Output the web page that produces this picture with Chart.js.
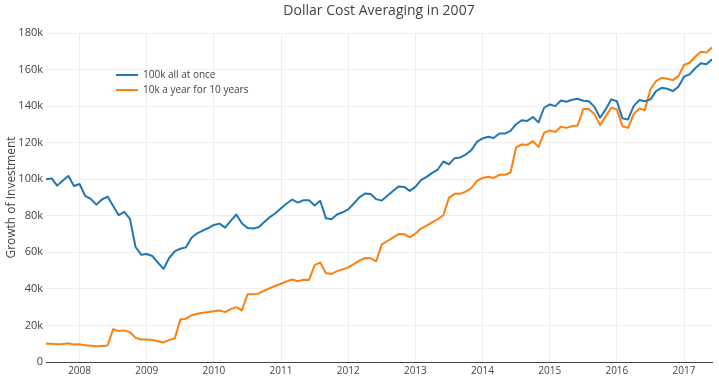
<!DOCTYPE html>
<html>
<head>
<meta charset="utf-8">
<script src="https://cdn.jsdelivr.net/npm/chart.js@4/dist/chart.umd.min.js"></script>
<style>
html,body{margin:0;padding:0;background:#fff;}
#wrap{width:719px;height:380px;}
</style>
</head>
<body>
<div id="wrap"><canvas id="c" width="719" height="380"></canvas></div>
<script>
// ---- data (values in thousands of USD, monthly from July 2007) ----
const chartTitle = 'Dollar Cost Averaging in 2007';
const yAxisTitle = 'Growth of Investment';
const seriesNames = ['100k all at once', '10k a year for 10 years'];
const seriesColors = ['#1f77b4', '#ff7f0e'];
const startYear = 2007;
const startMonth = 7;

const lumpSum = [
  100.0, 100.4, 96.5, 99.3, 101.8, 96.3, 97.4, 90.9, 89.2, 86.1, 88.9, 90.5,
  85.4, 80.3, 82.1, 78.3, 62.9, 58.7, 59.1, 58.0, 54.4, 50.9, 56.9, 60.5,
  62.0, 62.7, 68.0, 70.4, 71.9, 73.3, 75.0, 75.7, 73.5, 77.2, 80.7, 75.9,
  73.3, 73.0, 73.7, 76.6, 79.3, 81.4, 84.1, 86.7, 88.9, 87.2, 88.5, 88.5,
  85.6, 88.2, 78.7, 78.1, 80.7, 81.9, 83.5, 86.7, 90.1, 92.2, 91.9, 89.1,
  88.3, 90.9, 93.5, 96.0, 95.8, 93.6, 95.8, 99.5, 101.3, 103.5, 105.3, 109.7,
  108.1, 111.5, 111.9, 113.5, 115.9, 120.4, 122.3, 123.2, 122.6, 125.0, 125.0, 126.5,
  130.1, 132.2, 131.9, 134.0, 131.1, 139.1, 140.9, 140.0, 143.1, 142.4, 143.5, 144.0,
  142.9, 142.7, 139.6, 133.6, 138.2, 143.7, 142.7, 133.3, 132.7, 140.0, 143.3, 142.7,
  143.7, 148.2, 150.0, 149.5, 148.2, 150.6, 156.1, 157.4, 160.7, 163.4, 162.9, 165.6
];

const yearly = [
  10.0, 10.0, 9.7, 9.9, 10.2, 9.6, 9.7, 9.1, 8.9, 8.6, 8.8, 9.0,
  18.0, 16.9, 17.3, 16.3, 13.2, 12.3, 12.3, 12.1, 11.4, 10.7, 12.1, 12.9,
  23.3, 23.7, 25.5, 26.4, 26.9, 27.3, 27.8, 28.2, 27.3, 28.9, 30.0, 28.2,
  37.0, 37.0, 37.5, 39.0, 40.4, 41.7, 42.8, 44.1, 45.1, 44.2, 45.0, 44.9,
  53.0, 54.4, 48.7, 48.2, 49.7, 50.7, 51.8, 53.6, 55.5, 56.9, 56.8, 55.1,
  64.4, 66.2, 68.1, 70.0, 69.9, 68.2, 70.2, 73.0, 74.6, 76.4, 78.1, 80.3,
  89.8, 92.0, 92.0, 93.2, 95.2, 99.1, 100.7, 101.3, 100.7, 102.4, 102.4, 103.7,
  117.4, 119.0, 118.8, 120.8, 117.7, 125.4, 126.7, 125.8, 128.7, 128.1, 129.0, 129.4,
  138.4, 138.4, 135.6, 129.6, 134.5, 139.1, 138.2, 129.0, 128.1, 135.6, 138.7, 137.8,
  149.1, 153.7, 155.5, 155.0, 154.2, 156.4, 162.5, 163.7, 167.0, 169.8, 169.3, 172.0
];

const yearTicks = [2008, 2009, 2010, 2011, 2012, 2013, 2014, 2015, 2016, 2017];
const yTickValues = [0, 20, 40, 60, 80, 100, 120, 140, 160, 180];

// ---- build ----
const toX = i => startYear + (startMonth - 1 + i) / 12;
const mk = arr => arr.map((v, i) => ({x: toX(i), y: v}));
const FONT = '"Open Sans", "DejaVu Sans", sans-serif';
const TXT = '#444';

const legendPlacer = {
  id: 'legendPlacer',
  afterLayout(chart) {
    const lg = chart.legend;
    if (!lg) return;
    const w = lg.width, h = lg.height;
    lg.left = 111; lg.top = 65;
    lg.right = lg.left + w; lg.bottom = lg.top + h;
  }
};

new Chart(document.getElementById('c'), {
  type: 'line',
  data: {
    datasets: [
      {label: seriesNames[0], data: mk(lumpSum), borderColor: seriesColors[0], backgroundColor: seriesColors[0]},
      {label: seriesNames[1], data: mk(yearly), borderColor: seriesColors[1], backgroundColor: seriesColors[1]}
    ]
  },
  options: {
    responsive: false,
    animation: false,
    devicePixelRatio: 1,
    layout: {padding: {left: 0, right: 7, top: 0, bottom: 0}},
    elements: {
      point: {radius: 0, hoverRadius: 0},
      line: {borderWidth: 2, tension: 0, fill: false, borderJoinStyle: 'round'}
    },
    plugins: {
      tooltip: {enabled: false},
      title: {
        display: true, text: chartTitle, fullSize: false, color: TXT,
        font: {family: FONT, size: 14, weight: 'normal', lineHeight: 1.2},
        padding: {top: 3, bottom: 13.2}
      },
      legend: {
        display: true, position: 'chartArea', align: 'start',
        labels: {
          color: TXT, font: {family: FONT, size: 10}, boxWidth: 22, boxHeight: 2, padding: 5,
          generateLabels(chart) {
            const items = Chart.defaults.plugins.legend.labels.generateLabels(chart);
            items.forEach(it => { it.lineWidth = 0; });
            return items;
          }
        }
      }
    },
    scales: {
      x: {
        type: 'linear',
        min: toX(0), max: toX(lumpSum.length - 1),
        afterBuildTicks(scale) { scale.ticks = yearTicks.map(v => ({value: v})); },
        afterFit(scale) { scale.height = 18; },
        ticks: {color: TXT, font: {family: FONT, size: 10}, padding: 3, maxRotation: 0, autoSkip: false,
                callback: v => String(v)},
        grid: {color: '#eee', lineWidth: 1, drawTicks: false},
        border: {display: true, color: '#444', width: 1}
      },
      y: {
        type: 'linear', min: 0, max: 180,
        afterBuildTicks(scale) { scale.ticks = yTickValues.map(v => ({value: v})); },
        afterFit(scale) { scale.width = 46; },
        ticks: {color: TXT, font: {family: FONT, size: 11}, padding: 3,
                callback: v => v === 0 ? '0' : v + 'k'},
        grid: {color: '#eee', lineWidth: 1, drawTicks: false},
        border: {display: false},
        title: {display: true, text: yAxisTitle, color: TXT, font: {family: FONT, size: 12}, padding: {top: 4, bottom: 0}}
      }
    }
  },
  plugins: [legendPlacer]
});
</script>
</body>
</html>
